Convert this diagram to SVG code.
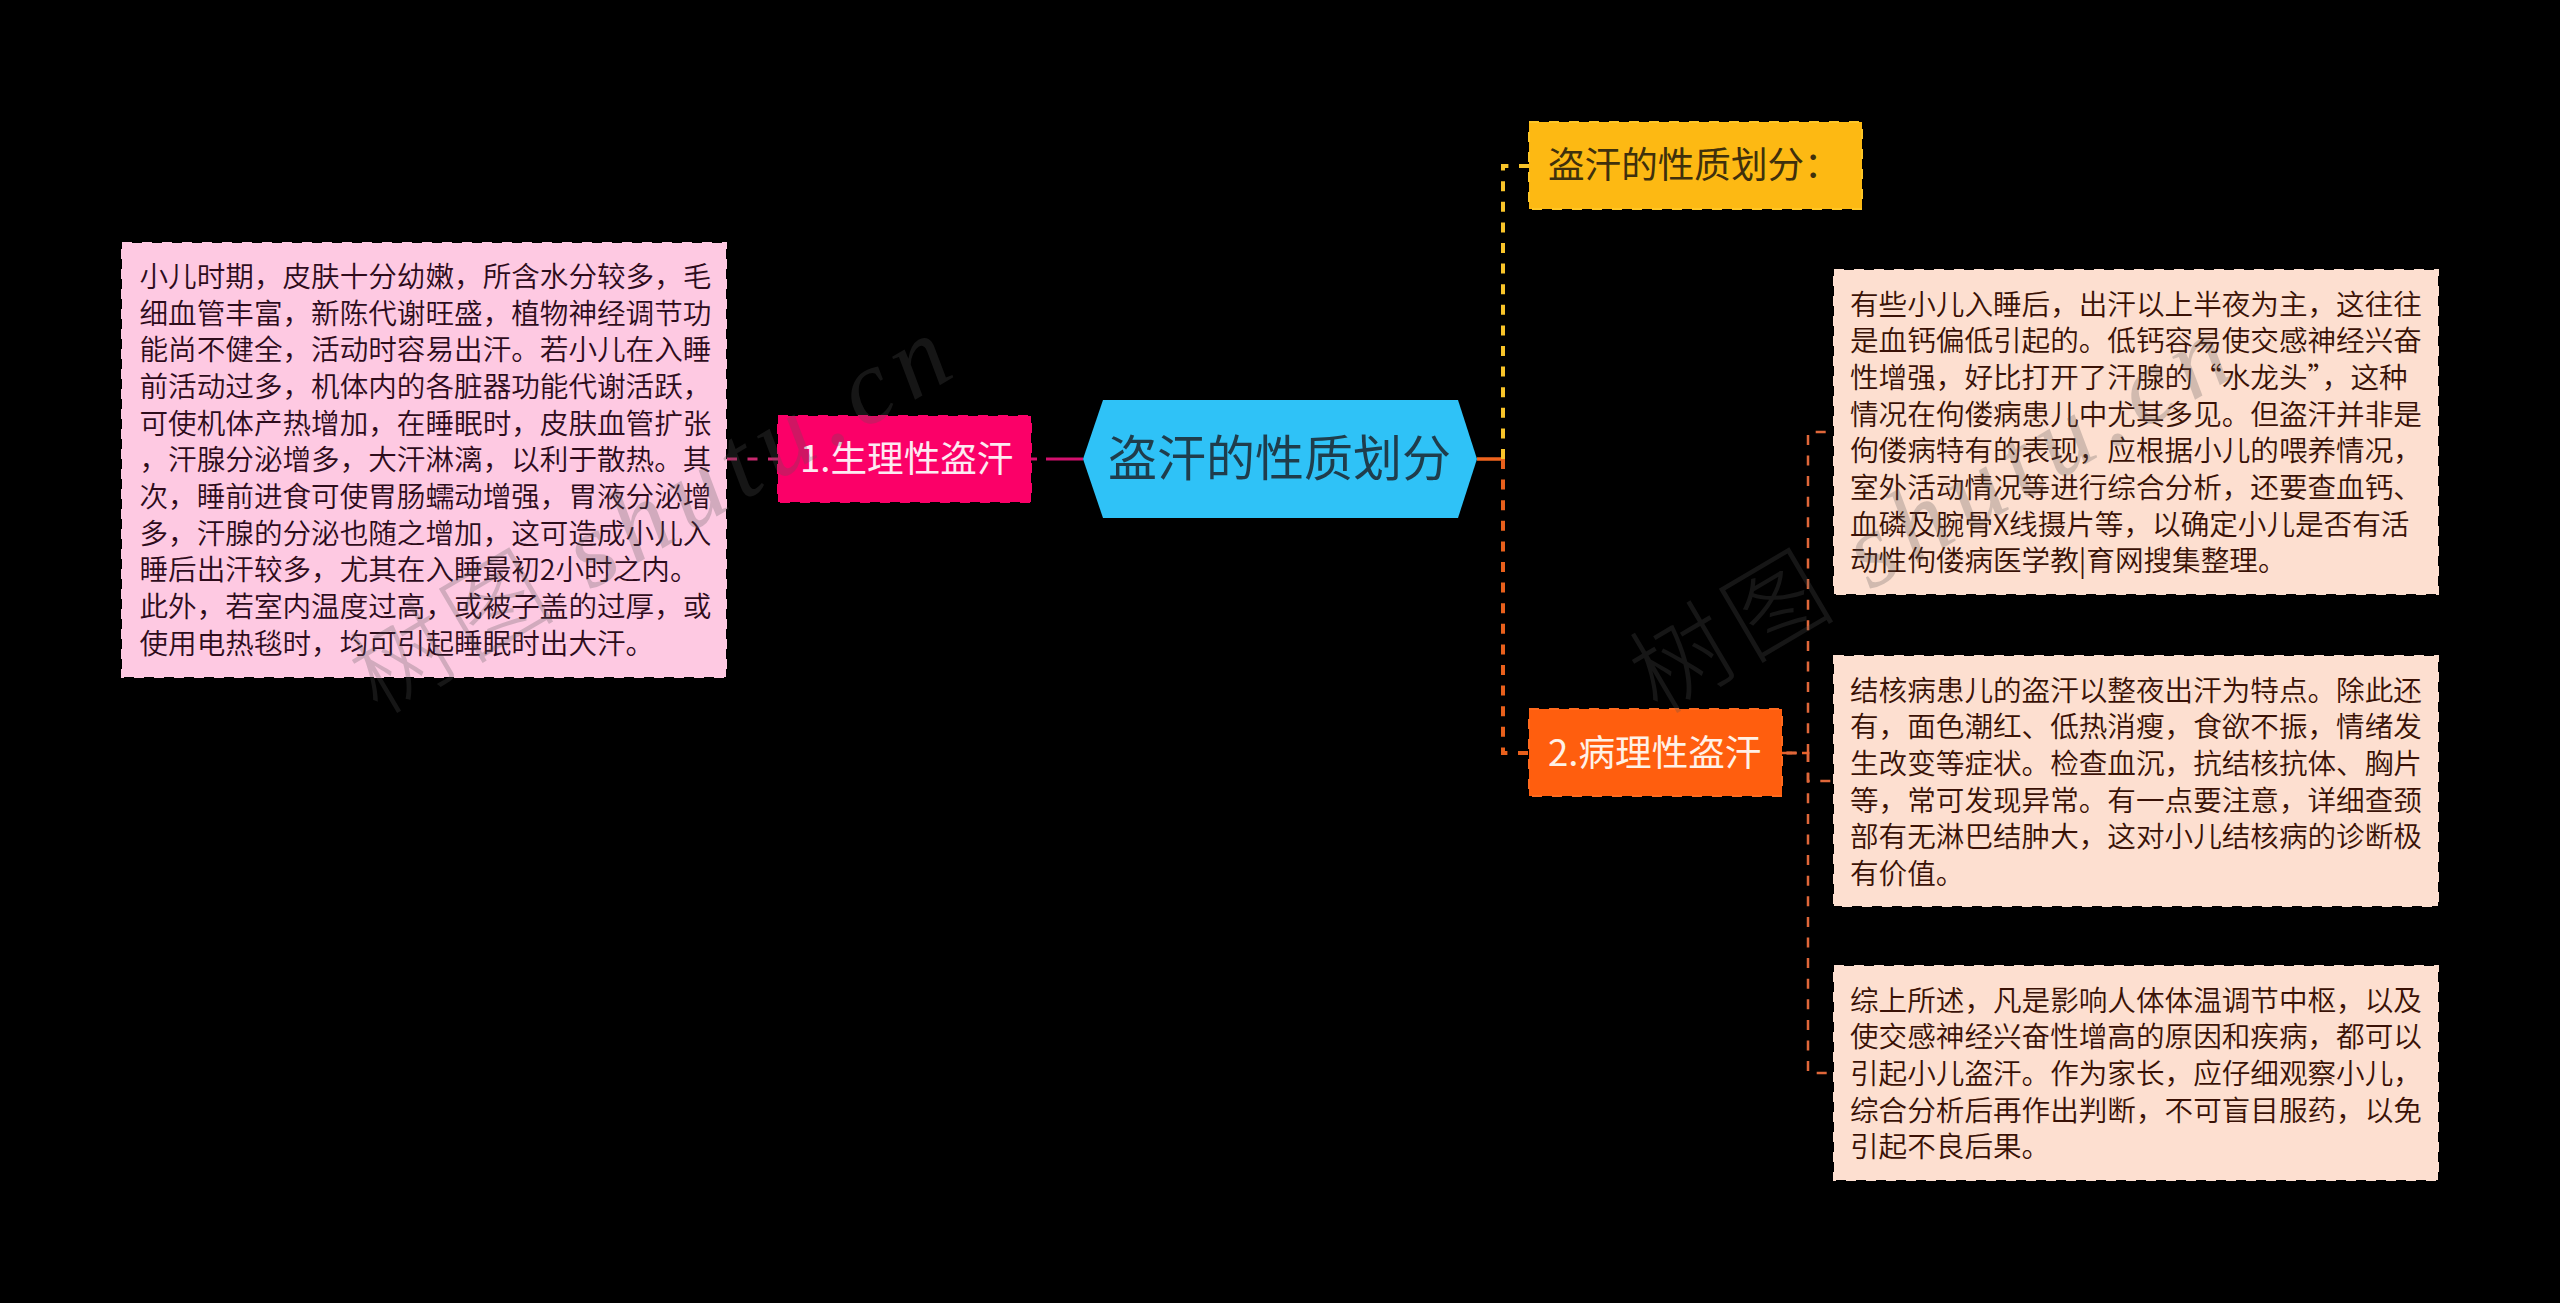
<svg xmlns="http://www.w3.org/2000/svg" width="2560" height="1303" viewBox="0 0 2560 1303">
<style>
text{font-family:"Noto Sans CJK SC","Liberation Sans",sans-serif}
.body{font-size:28.6px;font-weight:350}
.pinkt{fill:#2e0c1c}
.peacht{fill:#3a1206}
.sub{font-size:36.6px;font-weight:400}
.box{stroke-width:2;stroke-dasharray:10 10}
.wm{font-size:100px;font-weight:300;fill:#555;opacity:.26;letter-spacing:8px}
.wm tspan.l{font-family:"Liberation Serif",serif;font-style:italic;font-size:106px;letter-spacing:10px}
</style>
<rect width="2560" height="1303" fill="#000"/>
<g id="connectors" fill="none">
<path d="M1083 459H1046M1037 459H1031" stroke="#d4106e" stroke-width="3"/>
<path d="M778 459H726" stroke="#c8286e" stroke-width="3" stroke-dasharray="10 10.5"/>
<path d="M1477 459H1503" stroke="#f0641e" stroke-width="3.5"/>
<path d="M1503 459V166H1529" stroke="#f8c42a" stroke-width="4" stroke-dasharray="10 10.6"/>
<path d="M1503 459V753H1529" stroke="#e8601c" stroke-width="4" stroke-dasharray="10 10.6"/>
<path d="M1782 753H1792M1802 753H1808" stroke="#e8622a" stroke-width="2.5"/>
<g stroke="#e0673a" stroke-width="2.5" stroke-dasharray="10 10.6" stroke-dashoffset="16.1">
<path d="M1782 753H1808V432H1834"/>
<path d="M1782 753H1808V781H1834"/>
<path d="M1782 753H1808V1073H1834"/>
</g>
</g>
<g id="root">
<polygon points="1083,459 1103,400 1458,400 1477,459 1458,518 1103,518" fill="#2fc2f7"/>
<text x="1108" y="476" font-size="49" font-weight="400" fill="#1f3d4c">盗汗的性质划分</text>
</g>
<g id="branch-1">
<rect x="778" y="416" width="253" height="86" fill="#fb0068" stroke="#fb0068" class="box"/>
<text x="800" y="472" class="sub" fill="#fdeaf2">1.生理性盗汗</text>
</g>
<g id="leaf-1">
<rect x="122" y="243" width="604" height="434" fill="#fec9e2" stroke="#fec9e2" class="box"/>
<text class="body pinkt">
<tspan x="139.5" y="287">小儿时期，皮肤十分幼嫩，所含水分较多，毛</tspan>
<tspan x="139.5" y="323.7">细血管丰富，新陈代谢旺盛，植物神经调节功</tspan>
<tspan x="139.5" y="360.3">能尚不健全，活动时容易出汗。若小儿在入睡</tspan>
<tspan x="139.5" y="397">前活动过多，机体内的各脏器功能代谢活跃，</tspan>
<tspan x="139.5" y="433.7">可使机体产热增加，在睡眠时，皮肤血管扩张</tspan>
<tspan x="139.5" y="470.3">，汗腺分泌增多，大汗淋漓，以利于散热。其</tspan>
<tspan x="139.5" y="507">次，睡前进食可使胃肠蠕动增强，胃液分泌增</tspan>
<tspan x="139.5" y="543.7">多，汗腺的分泌也随之增加，这可造成小儿入</tspan>
<tspan x="139.5" y="580.3">睡后出汗较多，尤其在入睡最初2小时之内。</tspan>
<tspan x="139.5" y="617">此外，若室内温度过高，或被子盖的过厚，或</tspan>
<tspan x="139.5" y="653.7">使用电热毯时，均可引起睡眠时出大汗。</tspan>
</text>
</g>
<g id="branch-0">
<rect x="1529" y="122" width="333" height="87" fill="#fdb913" stroke="#fdc526" class="box"/>
<text x="1548" y="178" class="sub" fill="#3f300c">盗汗的性质划分：</text>
</g>
<g id="branch-2">
<rect x="1529" y="709" width="253" height="87" fill="#ff5e0e" stroke="#ff6a1e" class="box"/>
<text x="1548" y="766" class="sub" fill="#fff1e6">2.病理性盗汗</text>
</g>
<g id="leaf-2">
<rect x="1834" y="270" width="604" height="324" fill="#fddfd0" stroke="#fddfd0" class="box"/>
<text class="body peacht">
<tspan x="1850" y="314.5">有些小儿入睡后，出汗以上半夜为主，这往往</tspan>
<tspan x="1850" y="351.2">是血钙偏低引起的。低钙容易使交感神经兴奋</tspan>
<tspan x="1850" y="387.8">性增强，好比打开了汗腺的“水龙头”，这种</tspan>
<tspan x="1850" y="424.5">情况在佝偻病患儿中尤其多见。但盗汗并非是</tspan>
<tspan x="1850" y="461.2">佝偻病特有的表现，应根据小儿的喂养情况，</tspan>
<tspan x="1850" y="497.8">室外活动情况等进行综合分析，还要查血钙、</tspan>
<tspan x="1850" y="534.5">血磷及腕骨X线摄片等，以确定小儿是否有活</tspan>
<tspan x="1850" y="571.2">动性佝偻病医学教|育网搜集整理。</tspan>
</text>
</g>
<g id="leaf-3">
<rect x="1834" y="656" width="604" height="250" fill="#fddfd0" stroke="#fddfd0" class="box"/>
<text class="body peacht">
<tspan x="1850" y="700.5">结核病患儿的盗汗以整夜出汗为特点。除此还</tspan>
<tspan x="1850" y="737.2">有，面色潮红、低热消瘦，食欲不振，情绪发</tspan>
<tspan x="1850" y="773.8">生改变等症状。检查血沉，抗结核抗体、胸片</tspan>
<tspan x="1850" y="810.5">等，常可发现异常。有一点要注意，详细查颈</tspan>
<tspan x="1850" y="847.2">部有无淋巴结肿大，这对小儿结核病的诊断极</tspan>
<tspan x="1850" y="883.8">有价值。</tspan>
</text>
</g>
<g id="leaf-4">
<rect x="1834" y="966" width="604" height="214" fill="#fddfd0" stroke="#fddfd0" class="box"/>
<text class="body peacht">
<tspan x="1850" y="1010.5">综上所述，凡是影响人体体温调节中枢，以及</tspan>
<tspan x="1850" y="1047.2">使交感神经兴奋性增高的原因和疾病，都可以</tspan>
<tspan x="1850" y="1083.8">引起小儿盗汗。作为家长，应仔细观察小儿，</tspan>
<tspan x="1850" y="1120.5">综合分析后再作出判断，不可盲目服药，以免</tspan>
<tspan x="1850" y="1157.2">引起不良后果。</tspan>
</text>
</g>
<g id="watermarks">
<text class="wm" transform="translate(378 716) rotate(-30.5)">树图 <tspan class="l">shutu.cn</tspan></text>
<text class="wm" transform="translate(1658 716) rotate(-30.5)">树图 <tspan class="l">shutu.cn</tspan></text>
</g>
</svg>
